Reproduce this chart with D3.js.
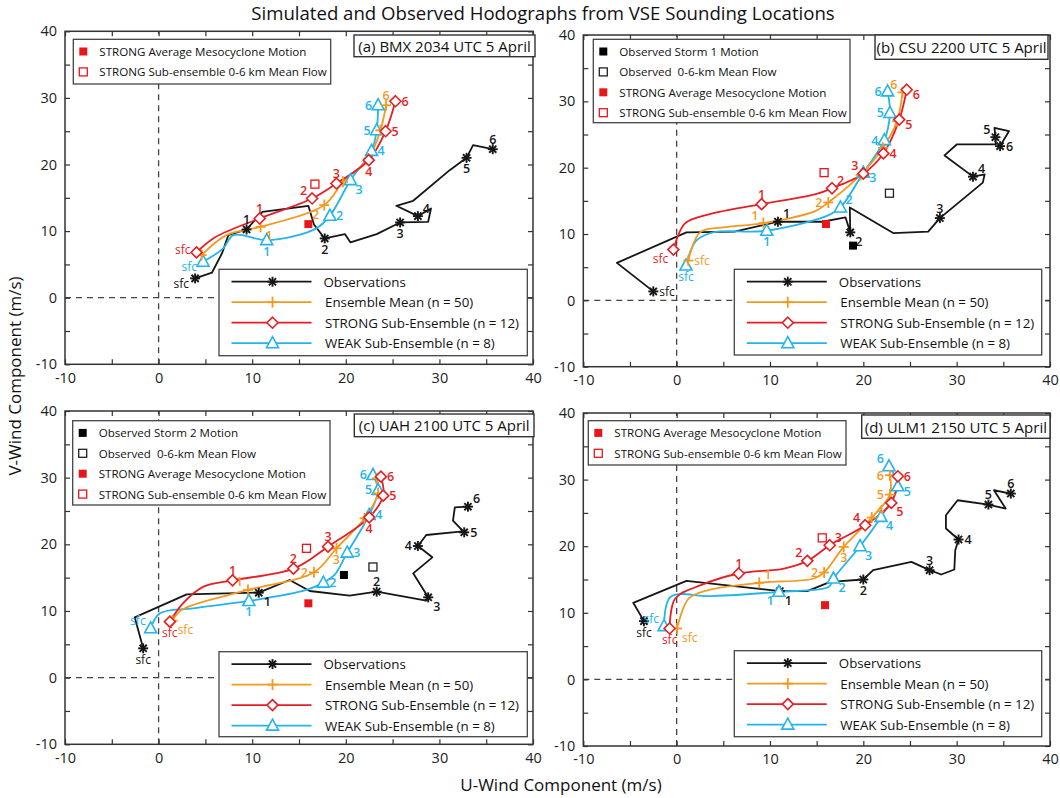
<!DOCTYPE html>
<html>
<head>
<meta charset="utf-8">
<script src="https://cdn.jsdelivr.net/npm/d3@7"></script>
<style>
body { margin: 0; background: #fff; }
svg { font-family: 'Open Sans', 'Noto Sans', sans-serif; }
</style>
</head>
<body>
<div id="chart"></div>
<script>
// ---- data: [u, v, level] (level null = vertex between levels) ----
const bmxObs = [[3.9,2.9,'sfc'],[5.7,3.75],[6.8,6.75],[7.45,9.4],[9.4,10.25,'1'],[11.1,12.9],[16.0,13.8],[16.6,11.0],
  [17.75,8.9,'2'],[19.9,9.55],[20.5,8.3],[23.3,9.55],[25.8,11.3,'3'],[28.8,11.4],[29.1,13.4],[27.7,12.25,'4'],
  [25.4,13.8],[27.2,14.55],[31.1,19.15],[32.9,21.0,'5'],[33.6,22.9],[35.7,22.3,'6']];
const bmxMean = [[4.6,6.4,'sfc'],[7.25,9.4],[10.9,10.65,'1'],[17.7,13.9,'2'],[19.7,17.4,'3'],[22.4,20.9,'4'],[23.7,25.15,'5'],[24.3,28.9,'6']];
const bmxStrong = [[4.05,6.8,'sfc'],[6.0,9.05],[10.8,11.9,'1'],[16.4,14.9,'2'],[19.0,17.15,'3'],[22.45,20.65,'4'],[24.25,25.0,'5'],[25.3,29.5,'6']];
const bmxWeak = [[4.75,5.4,'sfc'],[6.9,7.4],[8.0,9.4],[11.55,8.65,'1'],[16.7,10.3],[18.3,12.3,'2'],[20.5,17.65,'3'],[22.75,22.05,'4'],[23.3,25.15,'5'],[23.45,28.9,'6']];
const bmxSquares = [[16.0,11.05,'strongMeso'],[16.7,17.05,'strongFlow']];

const csuObs = [[-2.5,1.35,'sfc'],[-6.4,5.65],[1.05,10.25],[6.2,10.35],[10.85,11.85,'1'],[15.6,11.85],[18.1,12.5],
  [18.6,10.25,'2'],[18.55,14.0],[23.2,10.15],[26.95,10.35],[28.2,12.4,'3'],[32.8,17.75],[33.0,19.0],[31.75,18.65,'4'],
  [28.7,21.85],[30.0,23.5],[34.2,23.5],[34.15,24.6,'5'],[34.05,26.0],[35.6,25.5],[34.65,23.25,'6']];
const csuMean = [[1.25,6.0,'sfc'],[2.5,10.25],[4.95,11.0],[9.3,11.65,'1'],[14.9,13.5],[16.25,14.75,'2'],[19.7,18.9,'3'],[22.1,23.0,'4'],[23.6,27.0,'5'],[24.2,31.35,'6']];
const csuStrong = [[-0.35,7.65,'sfc'],[0.9,11.6],[3.55,13.0],[9.1,14.5,'1'],[14.9,16.0],[16.65,16.9,'2'],[20.0,19.1,'3'],[22.15,22.15,'4'],[23.85,27.25,'5'],[24.65,31.75,'6']];
const csuWeak = [[1.0,5.25,'sfc'],[2.1,9.0],[3.9,10.25],[9.65,10.5,'1'],[16.3,12.85],[17.55,14.0,'2'],[20.0,19.25,'3'],[22.25,24.15,'4'],[22.85,28.25,'5'],[22.6,31.5,'6']];
const csuSquares = [[18.9,8.25,'obsStorm'],[22.8,16.15,'obsFlow'],[16.0,11.5,'strongMeso'],[15.8,19.25,'strongFlow']];

const uahObs = [[-1.65,4.4,'sfc'],[-2.55,9.05],[3.0,12.5],[10.7,12.75,'1'],[14.0,14.65],[16.15,13.0],[20.4,12.3],
  [23.3,12.9,'2'],[28.6,11.55],[28.8,12.05,'3'],[27.2,15.65],[29.25,18.05],[27.7,19.75,'4'],[28.6,21.4],[32.2,21.9],
  [32.65,21.8,'5'],[31.45,23.55],[31.65,25.55],[33.05,25.65,'6']];
const uahMean = [[1.5,8.55,'sfc'],[2.45,10.15],[9.55,13.15,'1'],[16.6,15.8,'2'],[19.0,19.4,'3'],[22.0,23.9,'4'],[23.45,27.65,'5'],[23.3,29.9,'6']];
const uahStrong = [[1.2,8.4,'sfc'],[2.6,11.15],[4.8,13.65],[7.9,14.6,'1'],[14.4,16.35,'2'],[18.1,19.65,'3'],[22.5,24.05,'4'],[24.0,27.3,'5'],[23.75,30.15,'6']];
const uahWeak = [[-0.85,7.4,'sfc'],[0.15,9.65],[3.7,10.4],[9.65,11.5,'1'],[15.8,13.15],[17.6,14.25,'2'],[18.8,15.4],[20.15,18.75,'3'],[22.5,24.4,'4'],[23.45,28.15,'5'],[22.9,30.4,'6']];
const uahSquares = [[19.8,15.4,'obsStorm'],[22.9,16.6,'obsFlow'],[16.0,11.15,'strongMeso'],[15.8,19.4,'strongFlow']];

const ulmObs = [[-3.5,8.75,'sfc'],[-4.65,11.5],[1.05,14.8],[11.05,13.25,'1'],[14.0,13.25],[16.45,14.65],[20.0,15.0,'2'],
  [21.05,16.4],[25.15,17.65],[27.1,16.4,'3'],[28.35,15.75],[29.75,16.5],[29.85,19.4],[30.2,21.0,'4'],[28.85,22.65],
  [28.85,24.65],[30.1,26.9],[33.4,26.25,'5'],[35.25,25.65],[34.0,28.4],[35.8,27.9,'6']];
const ulmMean = [[0.05,7.65,'sfc'],[1.3,12.15],[3.7,13.5],[8.85,14.5,'1'],[14.7,15.15],[15.8,16.05,'2'],[17.9,19.9,'3'],[20.9,24.3,'4'],[22.85,27.75,'5'],[22.85,30.65,'6']];
const ulmStrong = [[-0.75,7.65,'sfc'],[-0.15,12.15],[2.6,14.15],[6.65,15.9,'1'],[11.5,16.65],[14.0,17.8,'2'],[16.4,20.15,'3'],[20.2,23.15,'4'],[23.0,26.5,'5'],[23.7,30.5,'6']];
const ulmWeak = [[-1.35,8.0,'sfc'],[-0.65,12.4],[3.7,12.5],[10.95,13.15,'1'],[16.3,13.9],[16.8,15.15,'2'],[19.65,20.0,'3'],[21.9,24.4,'4'],[23.7,29.0,'5'],[22.75,32.0,'6']];
const ulmSquares = [[15.9,11.15,'strongMeso'],[15.6,21.25,'strongFlow']];

const axisTicks = [-10, -5, 0, 5, 10, 15, 20, 25, 30, 35, 40];
const seriesNames = ['Observations', 'Ensemble Mean (n = 50)', 'STRONG Sub-Ensemble (n = 12)', 'WEAK Sub-Ensemble (n = 8)'];
const squareNames = {
  obsStorm1: 'Observed Storm 1 Motion',
  obsStorm2: 'Observed Storm 2 Motion',
  obsFlow: 'Observed\u00a0\u00a00-6-km Mean Flow',
  strongMeso: 'STRONG Average Mesocyclone Motion',
  strongFlow: 'STRONG Sub-ensemble 0-6 km Mean Flow'
};

// ---- styles ----
const colors = { obs: '#161616', mean: '#f39a1f', strong: '#e51f25', weak: '#22b4ec' };
const markerOf = { obs: 'star', mean: 'plus', strong: 'diamond', weak: 'triangle' };
const squareStyle = {
  obsStorm: { color: '#000', filled: true },
  obsFlow: { color: '#222', filled: false },
  strongMeso: { color: '#e8151b', filled: true },
  strongFlow: { color: '#e8151b', filled: false }
};
const labelCodes = {
  l: [-6, 0, 'end'], r: [6, 0, 'start'], a: [0, -10, 'middle'], b: [0, 11, 'middle'],
  al: [-5, -8, 'end'], ar: [5, -8, 'start'], bl: [-5, 9, 'end'], br: [5, 9, 'start'],
  lb: [-6, 5, 'end'], la: [-6, -3, 'end'], rb: [6, 5, 'start']
};

const panels = [
  { title: '(a) BMX 2034 UTC 5 April', box: { left: 65, right: 533, top: 31.3, bottom: 364.3 },
    series: { obs: bmxObs, weak: bmxWeak, mean: bmxMean, strong: bmxStrong }, squares: bmxSquares,
    keys: ['strongMeso', 'strongFlow'],
    labels: { obs: 'lb a b b ar b a', mean: '- br bl - - - a', strong: 'la a al a b r r', weak: 'lb b r br r l l' },
    titleBox: [354, 35, 181, 21.7], keyBox: [73.3, 39.3, 257.4, 44.7], legendBox: [219, 269.3, 308.3, 86.4] },
  { title: '(b) CSU 2200 UTC 5 April', box: { left: 583.3, right: 1050, top: 35, bottom: 366.7 },
    series: { obs: csuObs, weak: csuWeak, mean: csuMean, strong: csuStrong }, squares: csuSquares,
    keys: ['obsStorm1', 'obsFlow', 'strongMeso', 'strongFlow'],
    labels: { obs: 'r ar br a ar al r', mean: 'r al l - - - al', strong: 'bl a ar al r rb rb', weak: 'b b ar rb l l l' },
    titleBox: [875, 35, 173, 24.3], keyBox: [593.3, 39.3, 256.7, 83.4], legendBox: [734.3, 269.3, 307.4, 85.7] },
  { title: '(c) UAH 2100 UTC 5 April', box: { left: 65, right: 533, top: 411, bottom: 744.3 },
    series: { obs: uahObs, weak: uahWeak, mean: uahMean, strong: uahStrong }, squares: uahSquares,
    keys: ['obsStorm2', 'obsFlow', 'strongMeso', 'strongFlow'],
    labels: { obs: 'b br a br l r ar', mean: 'br al l b - - -', strong: 'b a a a b r r', weak: 'al b r r r l l' },
    titleBox: [354.3, 414, 179.7, 22.7], keyBox: [72.7, 420.7, 257.3, 84.3], legendBox: [219, 651.7, 308.3, 85] },
  { title: '(d) ULM1 2150 UTC 5 April', box: { left: 583.3, right: 1050, top: 413, bottom: 746 },
    series: { obs: ulmObs, weak: ulmWeak, mean: ulmMean, strong: ulmStrong }, squares: ulmSquares,
    keys: ['strongMeso', 'strongFlow'],
    labels: { obs: 'b br b a r a a', mean: 'br ar l b ar l l', strong: 'b a al ar al br r', weak: 'al bl br br br rb al' },
    titleBox: [861.7, 415, 188.3, 23.3], keyBox: [588.3, 420.7, 257.7, 44.3], legendBox: [734.3, 650.7, 307.4, 86] }
];

const svg = d3.select('#chart').append('svg')
  .attr('width', 1060).attr('height', 798);

function drawMarker (g, type, cx, cy, color) {
  const m = g.append('g').attr('transform', `translate(${cx},${cy})`)
    .attr('stroke', color).attr('stroke-width', 1.6).attr('fill', '#fff');
  if (type === 'star') {
    const r = 5;
    [[-r, 0, r, 0], [0, -r, 0, r], [-r * 0.72, -r * 0.72, r * 0.72, r * 0.72], [-r * 0.72, r * 0.72, r * 0.72, -r * 0.72]]
      .forEach(s => m.append('line').attr('x1', s[0]).attr('y1', s[1]).attr('x2', s[2]).attr('y2', s[3]).attr('stroke-width', 1.9));
  } else if (type === 'plus') {
    m.append('line').attr('x1', -5).attr('x2', 5).attr('y1', 0).attr('y2', 0).attr('stroke-width', 1.8);
    m.append('line').attr('x1', 0).attr('x2', 0).attr('y1', -5.5).attr('y2', 5.5).attr('stroke-width', 1.8);
  } else if (type === 'diamond') {
    m.append('path').attr('d', 'M0,-5.5L5.5,0L0,5.5L-5.5,0Z');
  } else if (type === 'triangle') {
    m.append('path').attr('d', 'M0,-6.5L6,4.5L-6,4.5Z');
  }
}

function drawSquare (g, kind, cx, cy) {
  const st = squareStyle[kind.replace(/[0-9]$/, '')];
  g.append('rect')
    .attr('x', cx - 4).attr('y', cy - 4).attr('width', 8).attr('height', 8)
    .attr('fill', st.filled ? st.color : '#fff')
    .attr('stroke', st.color).attr('stroke-width', st.filled ? 0 : 1.3);
}

panels.forEach(p => {
  const b = p.box;
  const x = d3.scaleLinear().domain([-10, 40]).range([b.left, b.right]);
  const y = d3.scaleLinear().domain([-10, 40]).range([b.bottom, b.top]);
  const g = svg.append('g');
  const fmt = d => d % 10 === 0 ? d : '';

  // zero lines
  g.append('line').attr('x1', x(0)).attr('x2', x(0)).attr('y1', y(-10)).attr('y2', y(40))
    .attr('stroke', '#444').attr('stroke-width', 1.3).attr('stroke-dasharray', '6,5');
  g.append('line').attr('x1', x(-10)).attr('x2', x(40)).attr('y1', y(0)).attr('y2', y(0))
    .attr('stroke', '#444').attr('stroke-width', 1.3).attr('stroke-dasharray', '6,5');

  // axes, ticks inward
  const axes = g.append('g').attr('class', 'axes');
  axes.append('g').attr('transform', `translate(0,${b.bottom})`)
    .call(d3.axisBottom(x).tickValues(axisTicks).tickSize(-5).tickPadding(8).tickFormat(fmt));
  axes.append('g').attr('transform', `translate(0,${b.top})`)
    .call(d3.axisTop(x).tickValues(axisTicks).tickSize(-5).tickFormat(''));
  axes.append('g').attr('transform', `translate(${b.left},0)`)
    .call(d3.axisLeft(y).tickValues(axisTicks).tickSize(-5).tickPadding(8).tickFormat(fmt));
  axes.append('g').attr('transform', `translate(${b.right},0)`)
    .call(d3.axisRight(y).tickValues(axisTicks).tickSize(-5).tickFormat(''));
  axes.selectAll('.domain').remove();
  axes.selectAll('.tick line').attr('stroke', '#333').attr('stroke-width', 1.2);
  axes.selectAll('.tick text').attr('font-size', 14.5).attr('fill', '#222')
    .attr('font-family', "'Open Sans', sans-serif");

  // series
  const order = ['obs', 'weak', 'mean', 'strong'];
  order.forEach(key => {
    const pts = p.series[key];
    const line = d3.line().x(d => x(d[0])).y(d => y(d[1]))
      .curve(key === 'obs' ? d3.curveLinear : d3.curveCatmullRom.alpha(0.5));
    g.append('path').datum(pts).attr('d', line)
      .attr('fill', 'none').attr('stroke', colors[key]).attr('stroke-width', 1.8)
      .attr('stroke-linejoin', 'round');
  });
  order.forEach(key => {
    const pts = p.series[key].filter(d => d[2]);
    const codes = p.labels[key].split(' ');
    pts.forEach((d, i) => {
      drawMarker(g, markerOf[key], x(d[0]), y(d[1]), colors[key]);
      const c = labelCodes[codes[i]];
      if (!c) return;
      g.append('text')
        .attr('x', x(d[0]) + c[0]).attr('y', y(d[1]) + c[1])
        .attr('text-anchor', c[2]).attr('dominant-baseline', 'central')
        .attr('font-size', d[2] === 'sfc' ? 12 : 12.5)
        .attr('font-weight', d[2] === 'sfc' ? 400 : 600)
        .attr('fill', colors[key])
        .text(d[2]);
    });
  });

  // storm motion / mean flow squares
  p.squares.forEach(d => drawSquare(g, d[2], x(d[0]), y(d[1])));

  // frame
  g.append('rect').attr('x', b.left).attr('y', b.top)
    .attr('width', b.right - b.left).attr('height', b.bottom - b.top)
    .attr('fill', 'none').attr('stroke', '#333').attr('stroke-width', 1.5);

  // panel title box
  const tb = p.titleBox;
  g.append('rect').attr('x', tb[0]).attr('y', tb[1]).attr('width', tb[2]).attr('height', tb[3])
    .attr('fill', '#fff').attr('stroke', '#333').attr('stroke-width', 1.4);
  g.append('text').attr('x', tb[0] + tb[2] / 2).attr('y', tb[1] + tb[3] / 2)
    .attr('text-anchor', 'middle').attr('dominant-baseline', 'central')
    .attr('font-size', 15).attr('fill', '#111').text(p.title);

  // square key
  const kb = p.keyBox;
  g.append('rect').attr('x', kb[0]).attr('y', kb[1]).attr('width', kb[2]).attr('height', kb[3])
    .attr('fill', '#fff').attr('stroke', '#444').attr('stroke-width', 1.3);
  p.keys.forEach((k, i) => {
    const ry = kb[1] + 12.2 + i * 20.4;
    drawSquare(g, k.replace(/[0-9]$/, ''), kb[0] + 10, ry);
    g.append('text').attr('x', kb[0] + 26).attr('y', ry)
      .attr('dominant-baseline', 'central').attr('font-size', 11.6).attr('fill', '#111')
      .text(squareNames[k]);
  });

  // series legend
  const lb = p.legendBox;
  g.append('rect').attr('x', lb[0]).attr('y', lb[1]).attr('width', lb[2]).attr('height', lb[3])
    .attr('fill', '#fff').attr('stroke', '#444').attr('stroke-width', 1.3);
  ['obs', 'mean', 'strong', 'weak'].forEach((key, i) => {
    const ry = lb[1] + 12.4 + i * 20.5;
    g.append('line').attr('x1', lb[0] + 12.5).attr('x2', lb[0] + 92.5).attr('y1', ry).attr('y2', ry)
      .attr('stroke', colors[key]).attr('stroke-width', 1.8);
    drawMarker(g, markerOf[key], lb[0] + 53.5, ry, colors[key]);
    g.append('text').attr('x', lb[0] + (i === 0 ? 104.5 : 106)).attr('y', ry)
      .attr('dominant-baseline', 'central').attr('font-size', 13.3).attr('fill', '#111')
      .text(seriesNames[i]);
  });
});

// overall titles
svg.append('text').attr('x', 543).attr('y', 20).attr('text-anchor', 'middle')
  .attr('font-size', 18.6).attr('fill', '#111')
  .text('Simulated and Observed Hodographs from VSE Sounding Locations');
svg.append('text').attr('x', 561).attr('y', 791).attr('text-anchor', 'middle')
  .attr('font-size', 17).attr('fill', '#111').text('U-Wind Component (m/s)');
svg.append('text').attr('transform', 'translate(21,376) rotate(-90)').attr('text-anchor', 'middle')
  .attr('font-size', 17).attr('fill', '#111').text('V-Wind Component (m/s)');
</script>
</body>
</html>
